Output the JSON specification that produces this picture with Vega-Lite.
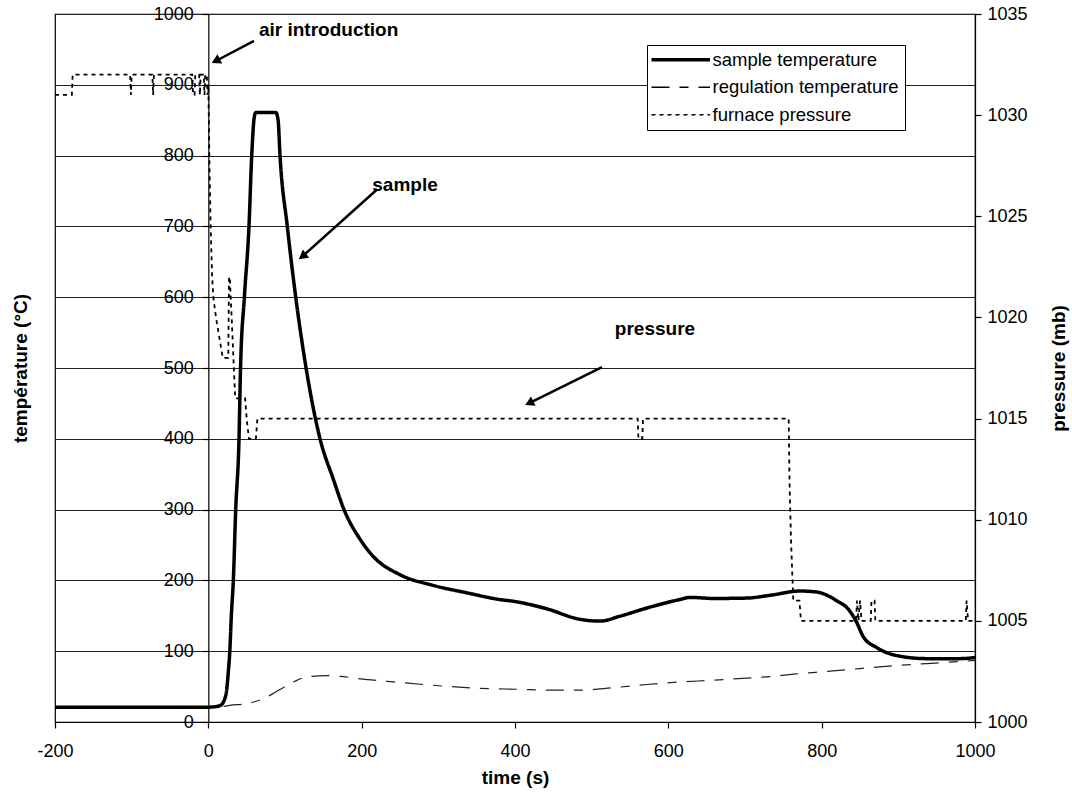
{
  "$schema": "https://vega.github.io/schema/vega-lite/v6.json",
  "width": 920,
  "height": 708,
  "autosize": {"type": "none"},
  "padding": {"left": 55, "top": 14, "right": 97, "bottom": 72},
  "background": "white",
  "config": {
    "font": "Liberation Sans",
    "view": {"stroke": "black", "strokeWidth": 1.2},
    "axis": {"labelColor": "black", "titleColor": "black", "domainColor": "black", "tickColor": "black", "labelFontSize": 18, "titleFontSize": 19, "titleFontWeight": "bold", "labelFlush": false, "labelOverlap": false, "domainWidth": 1.2, "tickWidth": 1.2, "format": "d"},
    "legend": {"orient": "none", "legendX": 592, "legendY": 31, "title": null, "strokeColor": "black", "fillColor": "white", "padding": 5.5, "symbolType": "M-4.5,0H4.5", "symbolSize": 169, "symbolStrokeColor": "black", "labelFontSize": 18.5, "labelColor": "black", "labelLimit": 0, "symbolOffset": 19, "labelOffset": 22.5, "rowPadding": 8.5}
  },
  "datasets": {
    "sample": [
      {"t": -200, "T": 21}, {"t": 0, "T": 21}, {"t": 8, "T": 21.5}, {"t": 15, "T": 23}, {"t": 20, "T": 29}, {"t": 24, "T": 46}, {"t": 26, "T": 70}, {"t": 28, "T": 100}, {"t": 30, "T": 150}, {"t": 32.6, "T": 200}, {"t": 35.7, "T": 300}, {"t": 40, "T": 400}, {"t": 42, "T": 500}, {"t": 47, "T": 600}, {"t": 53, "T": 700}, {"t": 56.6, "T": 800}, {"t": 60, "T": 855}, {"t": 62, "T": 861}, {"t": 88, "T": 861}, {"t": 91, "T": 850}, {"t": 93.5, "T": 800}, {"t": 103, "T": 700}, {"t": 114, "T": 600}, {"t": 127.5, "T": 500}, {"t": 145.7, "T": 400}, {"t": 163, "T": 343}, {"t": 177, "T": 300}, {"t": 198, "T": 258}, {"t": 215, "T": 234}, {"t": 250, "T": 208}, {"t": 293, "T": 193}, {"t": 337, "T": 182.5}, {"t": 380, "T": 173}, {"t": 398, "T": 170.5}, {"t": 441, "T": 160}, {"t": 485, "T": 145}, {"t": 511, "T": 142.5}, {"t": 537, "T": 149.5}, {"t": 572, "T": 161}, {"t": 615, "T": 173}, {"t": 628, "T": 176}, {"t": 659, "T": 174.5}, {"t": 702, "T": 175}, {"t": 733, "T": 179}, {"t": 772, "T": 185}, {"t": 794, "T": 183.5}, {"t": 820, "T": 171}, {"t": 835, "T": 159}, {"t": 846, "T": 140}, {"t": 854, "T": 121}, {"t": 872, "T": 105}, {"t": 902, "T": 93}, {"t": 937, "T": 89.5}, {"t": 980, "T": 89.5}, {"t": 1000, "T": 91}
    ],
    "regul": [
      {"t": 20, "T": 22}, {"t": 28, "T": 23.5}, {"t": 50, "T": 26}, {"t": 72, "T": 33}, {"t": 93.5, "T": 46}, {"t": 111, "T": 56.5}, {"t": 128, "T": 63.5}, {"t": 154, "T": 65.5}, {"t": 172, "T": 64.5}, {"t": 198, "T": 61}, {"t": 233, "T": 57.5}, {"t": 280, "T": 53}, {"t": 346, "T": 48}, {"t": 411, "T": 46}, {"t": 441, "T": 45}, {"t": 485, "T": 45}, {"t": 528, "T": 48.5}, {"t": 572, "T": 53}, {"t": 615, "T": 56.5}, {"t": 659, "T": 59}, {"t": 702, "T": 62}, {"t": 737, "T": 64.5}, {"t": 763, "T": 67.5}, {"t": 807, "T": 71.5}, {"t": 850, "T": 75.5}, {"t": 893, "T": 79.5}, {"t": 937, "T": 82.5}, {"t": 993, "T": 86.5}, {"t": 1000, "T": 87}
    ],
    "press": [
      {"t": -200, "p": 1031}, {"t": -178, "p": 1031}, {"t": -177, "p": 1032}, {"t": -102, "p": 1032}, {"t": -101, "p": 1031}, {"t": -100, "p": 1032}, {"t": -73, "p": 1032}, {"t": -72, "p": 1031}, {"t": -71, "p": 1032}, {"t": -21, "p": 1032}, {"t": -20, "p": 1031}, {"t": -18, "p": 1031}, {"t": -17, "p": 1032}, {"t": -12, "p": 1032}, {"t": -11, "p": 1031}, {"t": -10, "p": 1032}, {"t": -6, "p": 1032}, {"t": -5, "p": 1031}, {"t": -4, "p": 1032}, {"t": -2, "p": 1032}, {"t": -1, "p": 1031}, {"t": 0, "p": 1031.5}, {"t": 1.5, "p": 1027.5}, {"t": 3, "p": 1024.5}, {"t": 5, "p": 1022}, {"t": 6.5, "p": 1021}, {"t": 10, "p": 1020}, {"t": 14.4, "p": 1019}, {"t": 18.8, "p": 1018}, {"t": 26, "p": 1018}, {"t": 27, "p": 1022}, {"t": 28, "p": 1022}, {"t": 31, "p": 1019.5}, {"t": 35, "p": 1016}, {"t": 48, "p": 1016}, {"t": 50, "p": 1015}, {"t": 53, "p": 1014}, {"t": 62, "p": 1014}, {"t": 64, "p": 1015}, {"t": 560, "p": 1015}, {"t": 561, "p": 1014}, {"t": 566, "p": 1014}, {"t": 567, "p": 1015}, {"t": 757, "p": 1015}, {"t": 758, "p": 1012}, {"t": 760, "p": 1009}, {"t": 762, "p": 1007}, {"t": 763, "p": 1006}, {"t": 771, "p": 1006}, {"t": 773, "p": 1005}, {"t": 845, "p": 1005}, {"t": 846, "p": 1006}, {"t": 848, "p": 1005}, {"t": 850, "p": 1006}, {"t": 852, "p": 1005}, {"t": 864, "p": 1005}, {"t": 865, "p": 1006}, {"t": 869, "p": 1006}, {"t": 870, "p": 1005}, {"t": 988, "p": 1005}, {"t": 989, "p": 1006}, {"t": 991, "p": 1005}, {"t": 1000, "p": 1005}
    ],
    "notes": [
      {"t": 156.9, "T": 977.4, "label": "air introduction"},
      {"t": 256.5, "T": 758.5, "label": "sample"},
      {"t": 582.6, "T": 555.1, "label": "pressure"}
    ],
    "arrows": [
      {"id": "air", "t0": 59.6, "T0": 961.9, "t1": 9.7, "T1": 933.6},
      {"id": "sample", "t0": 220.4, "T0": 752.4, "t1": 122.7, "T1": 657.6},
      {"id": "pressure", "t0": 513.5, "T0": 501.4, "t1": 418.6, "T1": 450.4}
    ]
  },
  "layer": [
    {
      "data": {"name": "regul"},
      "mark": {"type": "line", "stroke": "#222", "strokeWidth": 1.2, "interpolate": "monotone"},
      "encoding": {
        "x": {"field": "t", "type": "quantitative", "scale": {"domain": [-200, 1000], "nice": false, "zero": false},
          "axis": {"title": "time (s)", "values": [-200, 0, 200, 400, 600, 800, 1000], "labelExpr": "'' + datum.value", "tickSize": 6, "labelPadding": 14, "grid": false, "titleY": 55, "titleBaseline": "middle"}},
        "y": {"field": "T", "type": "quantitative", "scale": {"domain": [0, 1000], "nice": false, "zero": false},
          "axis": {"title": "température (°C)", "values": [0, 100, 200, 300, 400, 500, 600, 700, 800, 900, 1000], "offset": -153.33, "grid": true, "gridColor": "#222", "gridWidth": 1, "tickSize": 6, "labelPadding": 9, "titleX": -188, "titleY": 354, "titleAngle": 270, "titleBaseline": "middle", "titleAlign": "center"}},
        "strokeDash": {"datum": "regulation temperature", "type": "nominal",
          "scale": {"domain": ["sample temperature", "regulation temperature", "furnace pressure"], "range": [[1, 0], [18, 10, 9, 10], [4, 4]]},
          "legend": {"encode": {"symbols": {"update": {"strokeWidth": {"signal": "datum.value === 'sample temperature' ? 3.5 : 1.4"}}}}}}
      }
    },
    {
      "data": {"name": "sample"},
      "mark": {"type": "line", "stroke": "black", "strokeWidth": 3.5, "interpolate": "monotone"},
      "encoding": {
        "x": {"field": "t", "type": "quantitative",
          "axis": {"title": "time (s)", "values": [-200, 0, 200, 400, 600, 800, 1000], "labelExpr": "'' + datum.value", "tickSize": 6, "labelPadding": 14, "grid": false, "titleY": 55, "titleBaseline": "middle"}},
        "y": {"field": "T", "type": "quantitative", "scale": {"domain": [0, 1000], "nice": false, "zero": false}, "axis": null},
        "strokeDash": {"datum": "sample temperature", "type": "nominal",
          "scale": {"domain": ["sample temperature", "regulation temperature", "furnace pressure"], "range": [[1, 0], [18, 10, 9, 10], [4, 4]]},
          "legend": {"encode": {"symbols": {"update": {"strokeWidth": {"signal": "datum.value === 'sample temperature' ? 3.5 : 1.4"}}}}}}
      }
    },
    {
      "data": {"name": "press"},
      "mark": {"type": "line", "stroke": "black", "strokeWidth": 1.8},
      "encoding": {
        "x": {"field": "t", "type": "quantitative",
          "axis": {"title": "time (s)", "values": [-200, 0, 200, 400, 600, 800, 1000], "labelExpr": "'' + datum.value", "tickSize": 6, "labelPadding": 14, "grid": false, "titleY": 55, "titleBaseline": "middle"}},
        "y": {"field": "p", "type": "quantitative", "scale": {"domain": [1000, 1035], "nice": false, "zero": false},
          "axis": {"orient": "right", "title": "pressure (mb)", "values": [1000, 1005, 1010, 1015, 1020, 1025, 1030, 1035], "grid": false, "tickSize": 6, "labelPadding": 6, "titleX": 83, "titleY": 354, "titleAngle": 270, "titleBaseline": "middle", "titleAlign": "center"}},
        "strokeDash": {"datum": "furnace pressure", "type": "nominal",
          "scale": {"domain": ["sample temperature", "regulation temperature", "furnace pressure"], "range": [[1, 0], [18, 10, 9, 10], [4, 4]]},
          "legend": {"encode": {"symbols": {"update": {"strokeWidth": {"signal": "datum.value === 'sample temperature' ? 3.5 : 1.4"}}}}}}
      }
    },
    {
      "data": {"name": "arrows"},
      "mark": {"type": "rule", "stroke": "black", "strokeWidth": 2.5},
      "encoding": {
        "x": {"field": "t0", "type": "quantitative",
          "axis": {"title": "time (s)", "values": [-200, 0, 200, 400, 600, 800, 1000], "labelExpr": "'' + datum.value", "tickSize": 6, "labelPadding": 14, "grid": false, "titleY": 55, "titleBaseline": "middle"}},
        "y": {"field": "T0", "type": "quantitative", "scale": {"domain": [0, 1000], "nice": false, "zero": false}, "axis": null},
        "x2": {"field": "t1"},
        "y2": {"field": "T1"}
      }
    },
    {
      "data": {"name": "arrows"},
      "transform": [{"filter": "datum.id === 'air'"}],
      "mark": {"type": "point", "shape": "triangle-up", "filled": true, "color": "black", "opacity": 1, "size": 110, "angle": 243},
      "encoding": {
        "x": {"field": "t1", "type": "quantitative",
          "axis": {"title": "time (s)", "values": [-200, 0, 200, 400, 600, 800, 1000], "labelExpr": "'' + datum.value", "tickSize": 6, "labelPadding": 14, "grid": false, "titleY": 55, "titleBaseline": "middle"}},
        "y": {"field": "T1", "type": "quantitative", "scale": {"domain": [0, 1000], "nice": false, "zero": false}, "axis": null}}
    },
    {
      "data": {"name": "arrows"},
      "transform": [{"filter": "datum.id === 'sample'"}],
      "mark": {"type": "point", "shape": "triangle-up", "filled": true, "color": "black", "opacity": 1, "size": 110, "angle": 233},
      "encoding": {
        "x": {"field": "t1", "type": "quantitative",
          "axis": {"title": "time (s)", "values": [-200, 0, 200, 400, 600, 800, 1000], "labelExpr": "'' + datum.value", "tickSize": 6, "labelPadding": 14, "grid": false, "titleY": 55, "titleBaseline": "middle"}},
        "y": {"field": "T1", "type": "quantitative", "scale": {"domain": [0, 1000], "nice": false, "zero": false}, "axis": null}}
    },
    {
      "data": {"name": "arrows"},
      "transform": [{"filter": "datum.id === 'pressure'"}],
      "mark": {"type": "point", "shape": "triangle-up", "filled": true, "color": "black", "opacity": 1, "size": 110, "angle": 244},
      "encoding": {
        "x": {"field": "t1", "type": "quantitative",
          "axis": {"title": "time (s)", "values": [-200, 0, 200, 400, 600, 800, 1000], "labelExpr": "'' + datum.value", "tickSize": 6, "labelPadding": 14, "grid": false, "titleY": 55, "titleBaseline": "middle"}},
        "y": {"field": "T1", "type": "quantitative", "scale": {"domain": [0, 1000], "nice": false, "zero": false}, "axis": null}}
    },
    {
      "data": {"name": "notes"},
      "mark": {"type": "text", "fontSize": 19, "fontWeight": "bold", "color": "black", "align": "center", "baseline": "middle"},
      "encoding": {
        "x": {"field": "t", "type": "quantitative",
          "axis": {"title": "time (s)", "values": [-200, 0, 200, 400, 600, 800, 1000], "labelExpr": "'' + datum.value", "tickSize": 6, "labelPadding": 14, "grid": false, "titleY": 55, "titleBaseline": "middle"}},
        "y": {"field": "T", "type": "quantitative", "scale": {"domain": [0, 1000], "nice": false, "zero": false}, "axis": null},
        "text": {"field": "label"}
      }
    }
  ],
  "resolve": {"scale": {"y": "independent"}, "axis": {"y": "independent"}}
}
